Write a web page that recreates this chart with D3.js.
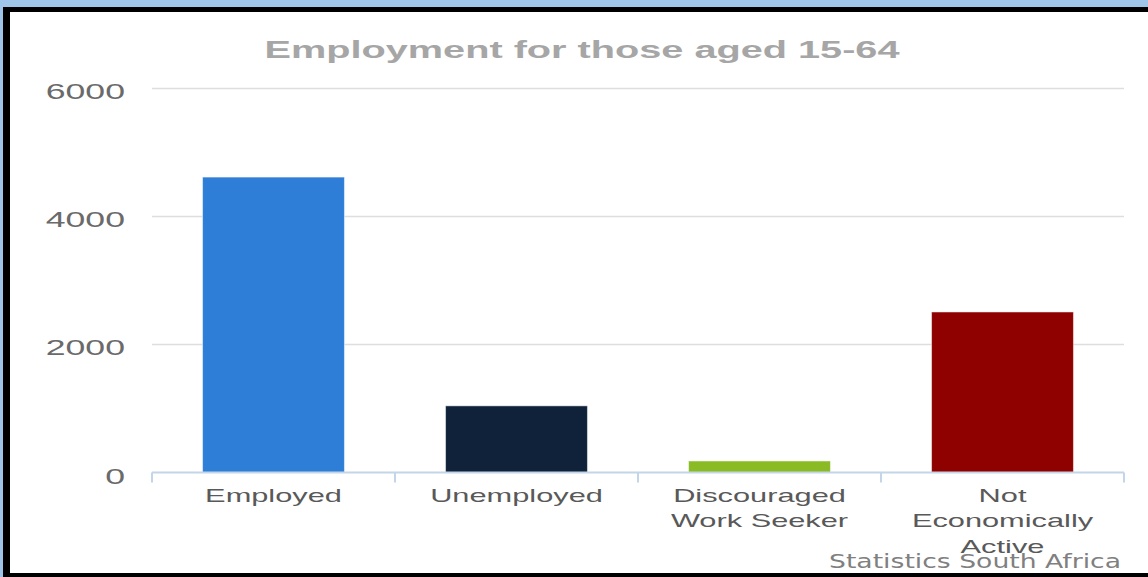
<!DOCTYPE html>
<html>
<head>
<meta charset="utf-8">
<script src="https://cdn.jsdelivr.net/npm/d3@7"></script>
<style>
  html, body { margin: 0; padding: 0; background: #fff; }
  svg { display: block; }
</style>
</head>
<body>
<svg id="chart" width="1148" height="577"></svg>
<script>
// ---- data ----
const title = "Employment for those aged 15-64";
const categories = ["Employed", "Unemployed", "Discouraged Work Seeker", "Not Economically Active"];
const values = [4610, 1040, 180, 2505];
const colors = ["#2e7ed8", "#0f2239", "#8abb25", "#8f0000"];
const categoryLabelLines = [["Employed"], ["Unemployed"], ["Discouraged", "Work Seeker"], ["Not", "Economically", "Active"]];
const yTicks = [0, 2000, 4000, 6000];
const credit = "Statistics South Africa";

// ---- layout ----
const W = 1148, H = 577;
const SX = 1.62; // horizontal stretch of the original picture's text
const plot = { left: 152, right: 1124, top: 88, bottom: 472.5 };

const svg = d3.select("#chart");

// frame
svg.append("rect").attr("x", 0).attr("y", 0).attr("width", W).attr("height", H).attr("fill", "#ffffff");
svg.append("rect").attr("x", 0).attr("y", 0).attr("width", W).attr("height", 7).attr("fill", "#9fc5e8");
svg.append("rect").attr("x", 0).attr("y", 0).attr("width", 3).attr("height", H).attr("fill", "#9fc5e8");
svg.append("rect").attr("x", 3).attr("y", 7).attr("width", W - 3).attr("height", 5).attr("fill", "#000");
svg.append("rect").attr("x", 3).attr("y", 7).attr("width", 7).attr("height", H - 7).attr("fill", "#000");
svg.append("rect").attr("x", 3).attr("y", 573).attr("width", W - 3).attr("height", 4).attr("fill", "#000");

const x = d3.scaleBand().domain(categories).range([plot.left, plot.right]).paddingInner(0.416).paddingOuter(0.208);
const y = d3.scaleLinear().domain([0, 6000]).range([plot.bottom, plot.top]);

function stretchedText(parent, px, py, txt, opts) {
  const g = parent.append("g").attr("transform", `translate(${px},${py}) scale(${opts.sx || SX},1)`);
  return g.append("text").attr("x", 0).attr("y", 0)
    .attr("text-anchor", opts.anchor || "middle")
    .attr("font-family", opts.family || "'Liberation Sans', Arial, sans-serif")
    .attr("font-size", opts.size)
    .attr("font-weight", opts.weight || "normal")
    .attr("fill", opts.fill)
    .text(txt);
}

// gridlines
svg.append("g").selectAll("line").data(yTicks.filter(d => d !== 0)).join("line")
  .attr("x1", plot.left).attr("x2", plot.right)
  .attr("y1", d => Math.round(y(d)) + 0.5).attr("y2", d => Math.round(y(d)) + 0.5)
  .attr("stroke", "#dedede").attr("stroke-width", 1.5);

// y labels
const yl = svg.append("g");
yTicks.forEach(t => {
  stretchedText(yl, 125, y(t) + 11, d3.format("d")(t), { anchor: "end", size: 22, fill: "#6a6a6a" });
});

// bars
svg.append("g").selectAll("rect").data(values).join("rect")
  .attr("x", (d, i) => x(categories[i]))
  .attr("y", d => y(d))
  .attr("width", x.bandwidth())
  .attr("height", d => y(0) - y(d))
  .attr("fill", (d, i) => colors[i])
  .attr("stroke", "rgba(255,255,255,0.5)")
  .attr("stroke-width", 1);

// x axis
const axis = svg.append("g");
axis.append("line").attr("x1", plot.left).attr("x2", plot.right)
  .attr("y1", plot.bottom).attr("y2", plot.bottom)
  .attr("stroke", "#c3d5e8").attr("stroke-width", 2);
const tickXs = categories.map(c => x(c) - x.step() * x.paddingInner() / 2).concat([plot.right]);
axis.selectAll("line.tick").data(tickXs).join("line").attr("class", "tick")
  .attr("x1", d => d).attr("x2", d => d)
  .attr("y1", plot.bottom).attr("y2", plot.bottom + 10)
  .attr("stroke", "#c3d5e8").attr("stroke-width", 2);

// x labels
const xl = svg.append("g");
categories.forEach((c, i) => {
  categoryLabelLines[i].forEach((line, j) => {
    stretchedText(xl, x(c) + x.bandwidth() / 2, plot.bottom + 29 + j * 25.5, line, { size: 19, fill: "#595959" });
  });
});

// title
stretchedText(svg, 582, 58, title, { size: 24.5, weight: "bold", fill: "#a6a6a6" });

// credit
svg.append("text").attr("x", 1121).attr("y", 568).attr("text-anchor", "end")
  .attr("font-family", "'DejaVu Sans', Verdana, sans-serif").attr("font-size", 19)
  .attr("fill", "#808080")
  .attr("textLength", 292).attr("lengthAdjust", "spacingAndGlyphs")
  .text(credit);
</script>
</body>
</html>
